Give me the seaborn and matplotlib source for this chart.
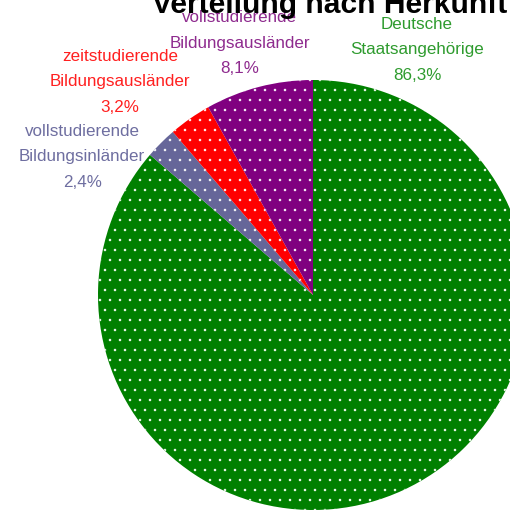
import matplotlib
matplotlib.use("Agg")
import matplotlib.pyplot as plt
import seaborn as sns

# Daten
kategorien = ["Deutsche\nStaatsangehörige",
              "vollstudierende\nBildungsinländer",
              "zeitstudierende\nBildungsausländer",
              "vollstudierende\nBildungsausländer"]
anteile = [86.3, 2.4, 3.2, 8.1]
farben = ["#008000", "#666699", "#FF0000", "#800080"]
textfarben = ["#2E9B2E", "#6E6EA0", "#FF2020", "#8E2B8E"]

sns.set_theme(style="white")
plt.rcParams['font.family'] = ['Liberation Sans', 'DejaVu Sans']
plt.rcParams['hatch.color'] = 'white'
plt.rcParams['hatch.linewidth'] = 0.3

fig = plt.figure(figsize=(4.25, 4.25), dpi=120)
ax = fig.add_axes([0, 0, 1, 1])

wedges, _ = ax.pie(anteile, colors=farben, startangle=90, counterclock=False,
                   wedgeprops=dict(edgecolor='white', linewidth=0))
for w in wedges:
    w.set_hatch('..')

# Beschriftungen (Positionen in Radius-Einheiten)
label_pos = [(0.484, 1.140), (-1.074, 0.642), (-0.898, 0.991), (-0.340, 1.172)]
for name, wert, col, (x, y) in zip(kategorien, anteile, textfarben, label_pos):
    txt = f"{name}\n{wert:.1f}%".replace(".", ",")
    ax.text(x, y, txt, ha='center', va='center', color=col, fontsize=10.2,
            linespacing=1.85, multialignment='center')

ax.text(0.079, 1.312, "Verteilung nach Herkunft", ha='center', va='baseline',
        fontsize=18, fontweight='bold', color='black')

ax.set_xlim(-313 / 215, 197 / 215)
ax.set_ylim(-1.0, 295 / 215)
ax.set_aspect('equal')
ax.axis('off')

fig.savefig("out.png", dpi=120)
